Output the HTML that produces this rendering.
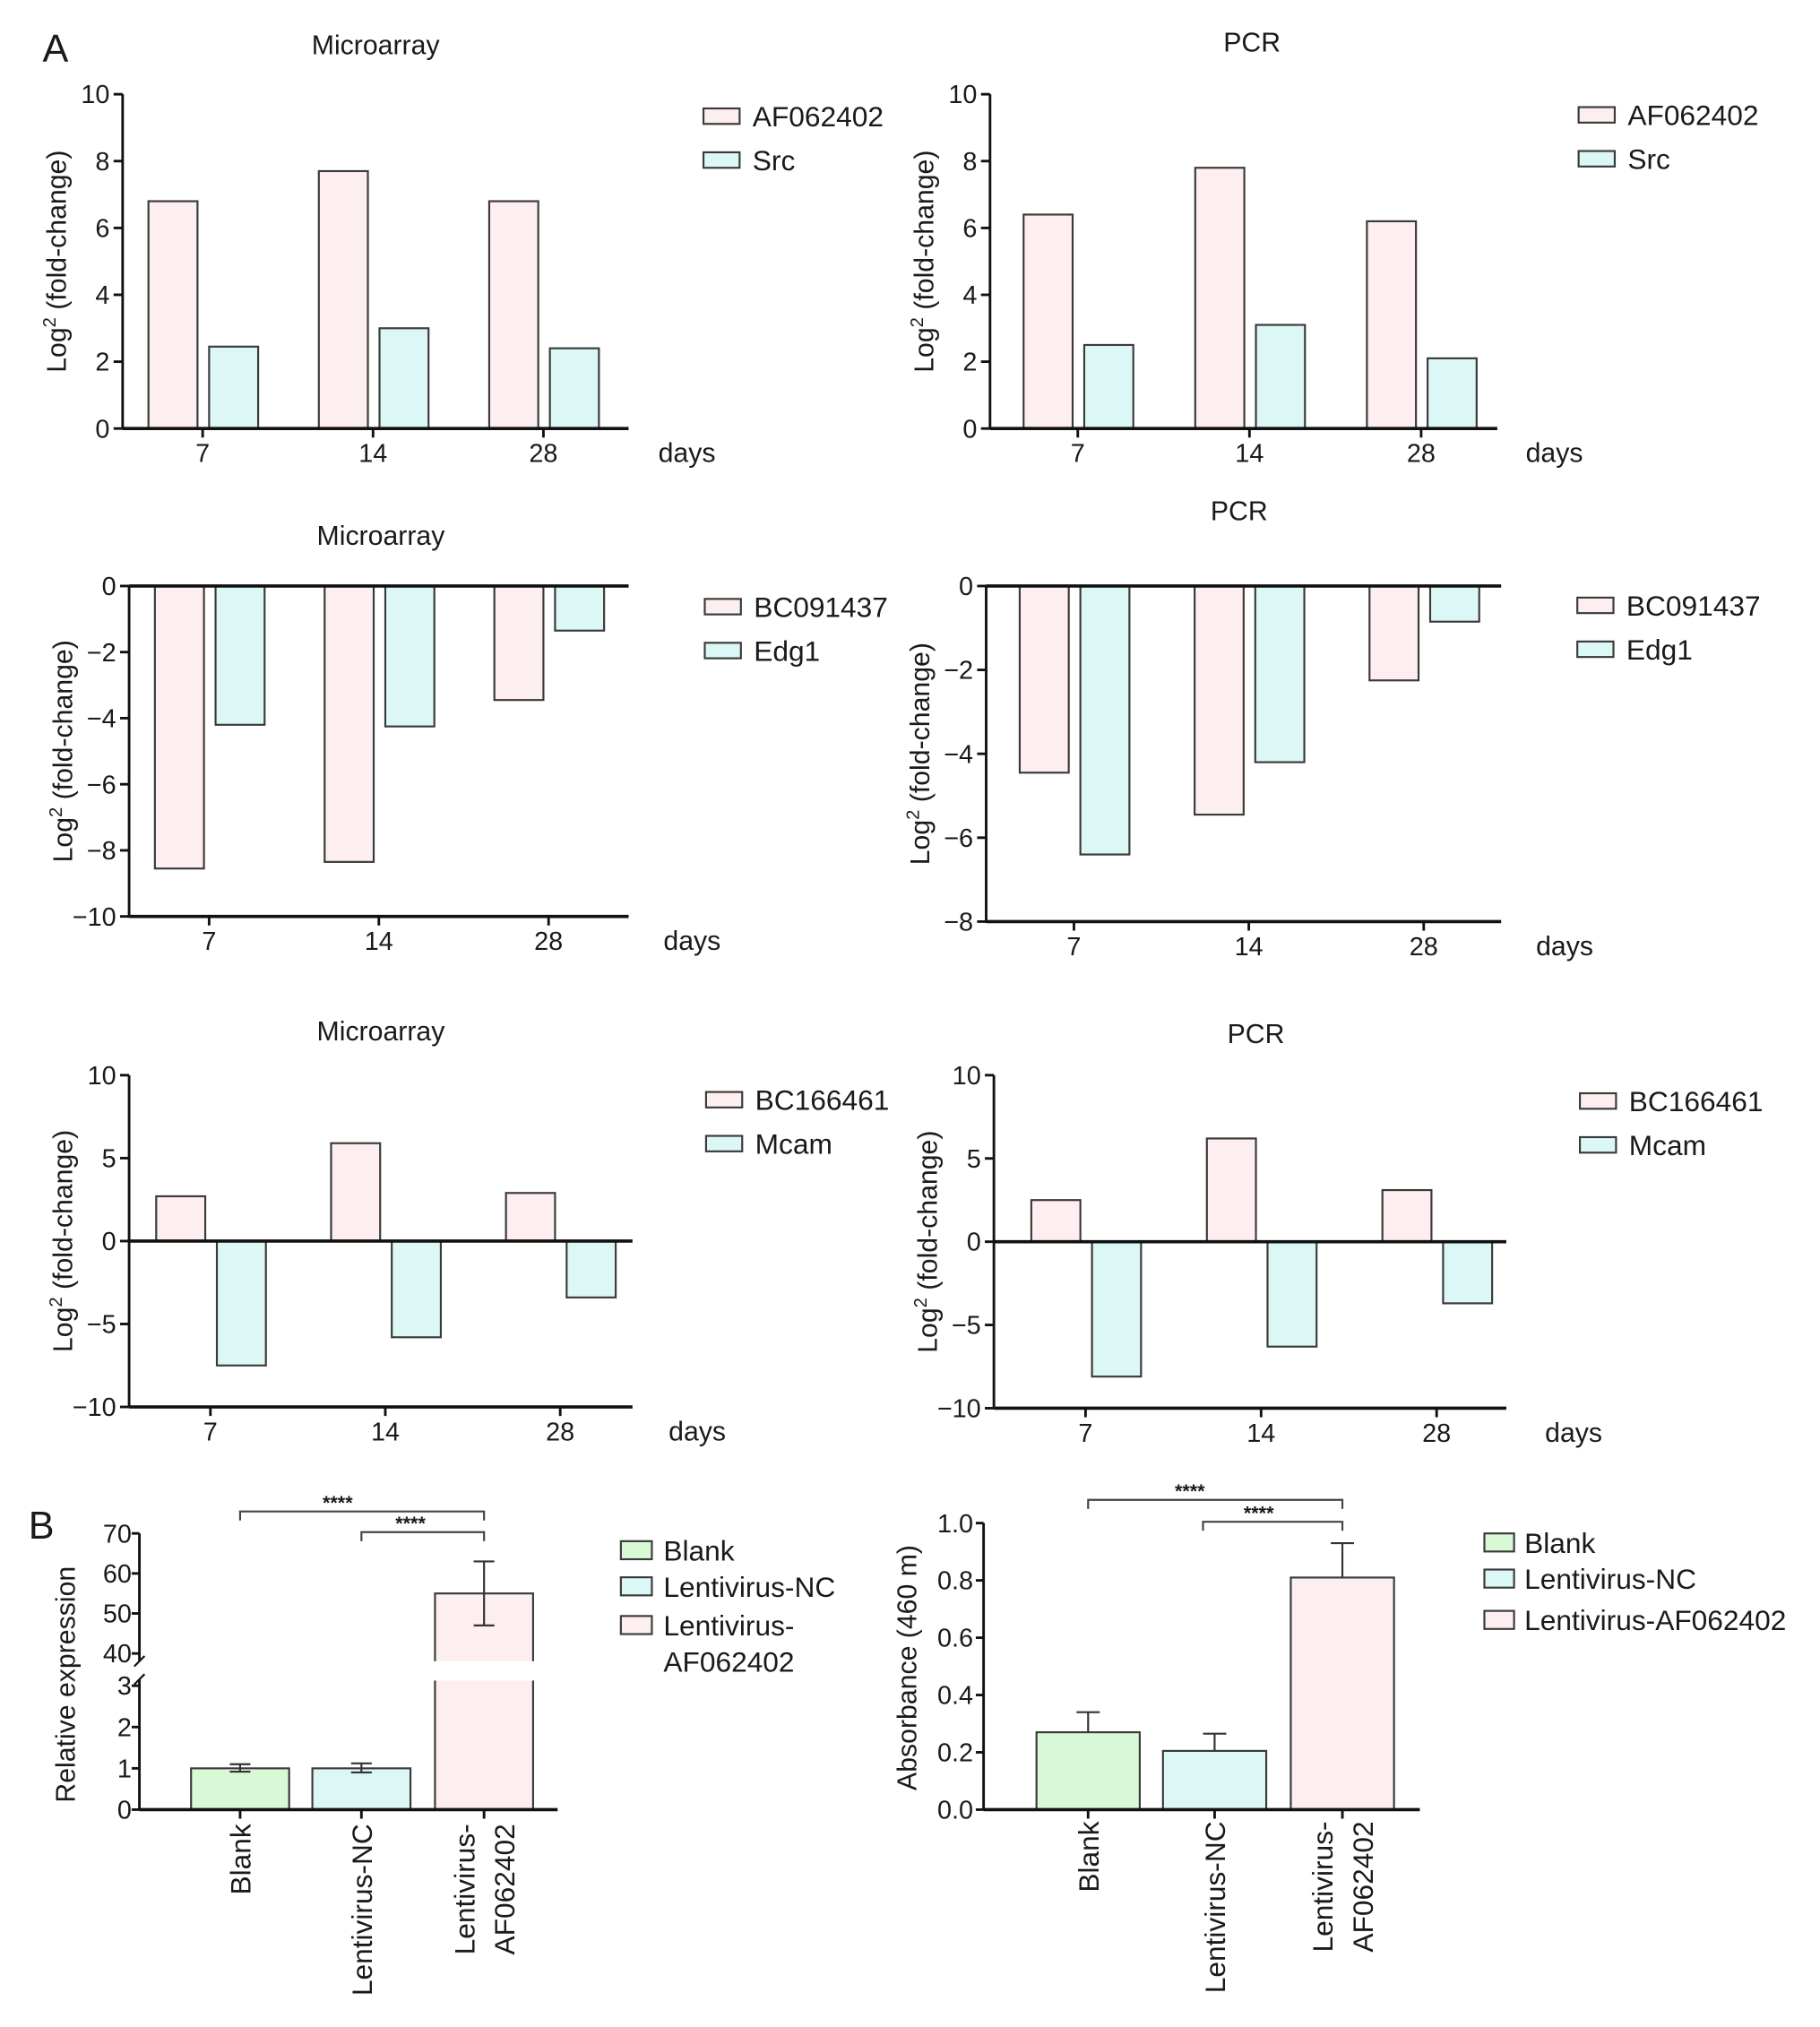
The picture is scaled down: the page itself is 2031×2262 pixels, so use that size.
<!DOCTYPE html>
<html><head><meta charset="utf-8">
<style>
html,body{margin:0;padding:0;background:#fff;}
svg{display:block;font-family:"Liberation Sans",Arial,sans-serif;}
text{fill:#1a1a1a;}
</style></head>
<body>
<svg id="fig" width="2031" height="2262" viewBox="0 0 1410 1570.4" xmlns="http://www.w3.org/2000/svg"></svg>
<script>
// ---- data ----
const days = ["7","14","28"];
const micro1Gene = [6.8, 7.7, 6.8];
const micro1Src = [2.45, 3.0, 2.4];
const pcr1Gene = [6.4, 7.8, 6.2];
const pcr1Src = [2.5, 3.1, 2.1];
const micro2Gene = [-8.55, -8.35, -3.45];
const micro2Edg = [-4.2, -4.25, -1.35];
const pcr2Gene = [-4.45, -5.45, -2.25];
const pcr2Edg = [-6.4, -4.2, -0.85];
const micro3Gene = [2.7, 5.9, 2.9];
const micro3Mcam = [-7.5, -5.8, -3.4];
const pcr3Gene = [2.5, 6.2, 3.1];
const pcr3Mcam = [-8.1, -6.3, -3.7];
const ticksPos10 = [0, 2, 4, 6, 8, 10];
const ticksNeg10 = [-10, -8, -6, -4, -2, 0];
const ticksNeg8 = [-8, -6, -4, -2, 0];
const ticksPm10 = [-10, -5, 0, 5, 10];
const groupsB = ["Blank", "Lentivirus-NC", "Lentivirus-AF062402"];
const relExpr = [1.0, 1.0, 55];
const relExprErrLo = [0.92, 0.9, 47];
const relExprErrHi = [1.1, 1.12, 63];
const absorb = [0.27, 0.205, 0.81];
const absorbErr = [0.34, 0.265, 0.93];
const relTicksLow = [0, 1, 2, 3];
const relTicksHigh = [40, 50, 60, 70];
const absTicks = [0.0, 0.2, 0.4, 0.6, 0.8, 1.0];

const PINK = "#fdeef0", CYAN = "#dcf8f6", GREEN = "#d9f8d6", STROKE = "#3a3a3a";
const TICK = 20, LEG = 22, CAT = 22, YT = 21;
const svg = document.getElementById('fig');
const NS = "http://www.w3.org/2000/svg";
function mk(tag, attrs, parent) {
  const e = document.createElementNS(NS, tag);
  for (const k in attrs) e.setAttribute(k, attrs[k]);
  (parent || svg).appendChild(e);
  return e;
}
function txt(s, x, y, size, anchor, parent, extra) {
  const t = mk('text', Object.assign({x: x, y: y, 'font-size': size, 'text-anchor': anchor || 'middle'}, extra || {}), parent);
  t.textContent = s;
  return t;
}
function logLabel(g, x, y) {
  const t = mk('text', {transform: `translate(${x},${y}) rotate(-90)`, 'font-size': YT, 'text-anchor': 'middle'}, g);
  const a = mk('tspan', {}, t); a.textContent = "Log";
  const b = mk('tspan', {dy: -8, 'font-size': 14}, t); b.textContent = "2";
  const c = mk('tspan', {dy: 8}, t); c.textContent = " (fold-change)";
  
  
}

function grouped(cfg, seriesA, seriesB, ticks, names) {
  const g = mk('g', {});
  
  
  const y = v => cfg.y0 + (v - cfg.ymin) / (cfg.ymax - cfg.ymin) * (cfg.y1 - cfg.y0);
  const zero = y(0);
  const tt = txt(cfg.title, cfg.titleX, cfg.titleY, 21, 'middle', g);
  
  
  days.forEach((d, i) => {
    const cx = cfg.x0 + cfg.tick0 + i * cfg.step;
    [[seriesA, PINK, -1], [seriesB, CYAN, 1]].forEach(([s, col, side]) => {
      const v = s[i];
      const bx = side < 0 ? cx - 42 : cx + 5;
      const top = Math.min(y(v), zero), h = Math.abs(y(v) - zero);
      const r = mk('rect', {x: bx, y: top, width: 38, height: h, fill: col, stroke: STROKE, 'stroke-width': 1.5}, g);
      
      
    });
    mk('line', {x1: cx, x2: cx, y1: cfg.axisY, y2: cfg.axisY + 7, stroke: '#111', 'stroke-width': 2}, g);
    const tl = txt(d, cx, cfg.axisY + 26, TICK, 'middle', g);
    
    
  });
  mk('line', {x1: cfg.x0, x2: cfg.x0, y1: y(cfg.ymax), y2: y(cfg.ymin), stroke: '#111', 'stroke-width': 2}, g);
  ticks.forEach(v => {
    mk('line', {x1: cfg.x0 - 7, x2: cfg.x0, y1: y(v), y2: y(v), stroke: '#111', 'stroke-width': 2}, g);
    const lbl = txt(v < 0 ? '\u2212' + Math.abs(v) : String(v), cfg.x0 - 10, y(v) + 7, TICK, 'end', g);
    
    
  });
  mk('line', {x1: cfg.x0, x2: cfg.xEnd, y1: zero, y2: zero, stroke: '#111', 'stroke-width': 2.5}, g);
  if (cfg.axisY !== zero) mk('line', {x1: cfg.x0, x2: cfg.xEnd, y1: cfg.axisY, y2: cfg.axisY, stroke: '#111', 'stroke-width': 2.5}, g);
  const dl = txt('days', cfg.daysX, cfg.axisY + 26, 21, 'start', g);
  
  
  logLabel(g, cfg.x0 - 44, (y(cfg.ymax) + y(cfg.ymin)) / 2);
  [[names[0], PINK], [names[1], CYAN]].forEach(([n, c], k) => {
    const ly = cfg.legY + k * 34;
    const lr = mk('rect', {x: cfg.legX, y: ly - 6, width: 28, height: 12, fill: c, stroke: STROKE, 'stroke-width': 1.5}, g);
    
    
    const lt = txt(n, cfg.legX + 38, ly + 8, LEG, 'start', g);
    
    
  });
  return g;
}

const pl = txt('A', 33, 48, 30, 'start');



grouped({name:'microarray-src-chart', title:'Microarray', titleX:291, titleY:42, x0:95, xEnd:487, y0:332, y1:73, ymin:0, ymax:10, axisY:332, tick0:62, step:132, daysX:510, legX:545, legY:90}, micro1Gene, micro1Src, ticksPos10, ['AF062402','Src']);
grouped({name:'pcr-src-chart', title:'PCR', titleX:970, titleY:40, x0:767, xEnd:1160, y0:332, y1:73, ymin:0, ymax:10, axisY:332, tick0:68, step:133, daysX:1182, legX:1223, legY:89}, pcr1Gene, pcr1Src, ticksPos10, ['AF062402','Src']);
grouped({name:'microarray-edg1-chart', title:'Microarray', titleX:295, titleY:422, x0:100, xEnd:487, y0:710, y1:454, ymin:-10, ymax:0, axisY:710, tick0:62, step:131.5, daysX:514, legX:546, legY:470}, micro2Gene, micro2Edg, ticksNeg10, ['BC091437','Edg1']);
grouped({name:'pcr-edg1-chart', title:'PCR', titleX:960, titleY:403, x0:764, xEnd:1163, y0:714, y1:454, ymin:-8, ymax:0, axisY:714, tick0:68, step:135.5, daysX:1190, legX:1222, legY:469}, pcr2Gene, pcr2Edg, ticksNeg8, ['BC091437','Edg1']);
grouped({name:'microarray-mcam-chart', title:'Microarray', titleX:295, titleY:806, x0:100, xEnd:490, y0:1090, y1:833, ymin:-10, ymax:10, axisY:1090, tick0:63, step:135.5, daysX:518, legX:547, legY:852}, micro3Gene, micro3Mcam, ticksPm10, ['BC166461','Mcam']);
grouped({name:'pcr-mcam-chart', title:'PCR', titleX:973, titleY:808, x0:770, xEnd:1167, y0:1091, y1:833, ymin:-10, ymax:10, axisY:1091, tick0:71, step:136, daysX:1197, legX:1224, legY:853}, pcr3Gene, pcr3Mcam, ticksPm10, ['BC166461','Mcam']);

const COLB = [GREEN, CYAN, PINK];
(function(){
  const g = mk('g', {});
  
  
  const pb = txt('B', 22, 1192, 30, 'start', g);
  
  
  const x0 = 108, xEnd = 432;
  const yLow = v => 1402 - v * 32;
  const yHigh = v => 1281 - (v - 40) * 3.1;
  const yv = v => v <= 3.2 ? yLow(v) : yHigh(v);
  const centers = [186, 280, 375];
  groupsB.forEach((n, i) => {
    const cx = centers[i], v = relExpr[i];
    const top = yv(v);
    const r = mk('rect', {x: cx - 38, y: top, width: 76, height: 1402 - top, fill: COLB[i], stroke: STROKE, 'stroke-width': 1.5}, g);
    
    
    const lo = yv(relExprErrLo[i]), hi = yv(relExprErrHi[i]);
    mk('line', {x1: cx, x2: cx, y1: lo, y2: hi, stroke: '#333', 'stroke-width': 1.5}, g);
    mk('line', {x1: cx - 8, x2: cx + 8, y1: lo, y2: lo, stroke: '#333', 'stroke-width': 1.5}, g);
    mk('line', {x1: cx - 8, x2: cx + 8, y1: hi, y2: hi, stroke: '#333', 'stroke-width': 1.5}, g);
    mk('line', {x1: cx, x2: cx, y1: 1402, y2: 1409, stroke: '#111', 'stroke-width': 2}, g);
  });
  mk('rect', {x: x0 + 2, y: 1287, width: xEnd - x0, height: 15, fill: '#fff'}, g);
  mk('line', {x1: x0, x2: x0, y1: yHigh(70), y2: 1287, stroke: '#111', 'stroke-width': 2}, g);
  mk('line', {x1: x0, x2: x0, y1: 1301, y2: 1402, stroke: '#111', 'stroke-width': 2}, g);
  mk('line', {x1: x0 - 4, x2: x0 + 4, y1: 1291, y2: 1283, stroke: '#111', 'stroke-width': 1.5}, g);
  mk('line', {x1: x0 - 4, x2: x0 + 4, y1: 1305, y2: 1297, stroke: '#111', 'stroke-width': 1.5}, g);
  mk('line', {x1: x0, x2: xEnd, y1: 1402, y2: 1402, stroke: '#111', 'stroke-width': 2.5}, g);
  relTicksLow.concat(relTicksHigh).forEach(v => {
    const yy = yv(v);
    mk('line', {x1: x0 - 6, x2: x0, y1: yy, y2: yy, stroke: '#111', 'stroke-width': 2}, g);
    const l = txt(String(v), x0 - 6, yy + 7, TICK, 'end', g);
    
    
  });
  const yl = txt('Relative expression', 0, 0, YT, 'middle', g, {transform: 'translate(58,1305) rotate(-90)'});
  
  
  [['Blank'], ['Lentivirus-NC'], ['Lentivirus-', 'AF062402']].forEach((lines, i) => {
    lines.forEach((s, k) => {
      const xx = centers[i] + 8 + (lines.length > 1 ? (k - 0.5) * 31 : 0);
      const l = txt(s, 0, 0, CAT, 'end', g, {transform: `translate(${xx},1413) rotate(-90)`});
      
      
    });
  });
  [[centers[0], centers[2], 1171, 1165], [centers[1], centers[2], 1187, 1181]].forEach(([a, b, yy, ty]) => {
    const p = mk('path', {d: `M${a},${yy + 7} V${yy} H${b} V${yy + 7}`, fill: 'none', stroke: '#444', 'stroke-width': 1.5}, g);
    
    
    const s = txt('****', (a + b) / 2 - (b - a) * 0.1, ty + 4, 15, 'middle', g, {'font-weight': 'bold'});
    
    
  });
  [['Blank'], ['Lentivirus-NC'], ['Lentivirus-', 'AF062402']].forEach((lines, i) => {
    const ly = [1201, 1229, 1259][i];
    const r = mk('rect', {x: 481, y: ly - 7, width: 24, height: 14, fill: COLB[i], stroke: STROKE, 'stroke-width': 1.5}, g);
    
    
    lines.forEach((s, k) => {
      const t = txt(s, 514, ly + 8 + k * 28, LEG, 'start', g);
      
      
    });
  });
})();

(function(){
  const g = mk('g', {});
  
  
  const x0 = 762, xEnd = 1100;
  const y = v => 1402 - v * 222;
  const centers = [843, 941, 1040];
  groupsB.forEach((n, i) => {
    const cx = centers[i], top = y(absorb[i]);
    const e = y(absorbErr[i]);
    mk('line', {x1: cx, x2: cx, y1: top, y2: e, stroke: '#333', 'stroke-width': 1.5}, g);
    mk('line', {x1: cx - 9, x2: cx + 9, y1: e, y2: e, stroke: '#333', 'stroke-width': 1.5}, g);
    const r = mk('rect', {x: cx - 40, y: top, width: 80, height: 1402 - top, fill: COLB[i], stroke: STROKE, 'stroke-width': 1.5}, g);
    
    
    mk('line', {x1: cx, x2: cx, y1: 1402, y2: 1409, stroke: '#111', 'stroke-width': 2}, g);
  });
  mk('line', {x1: x0, x2: x0, y1: y(1), y2: 1402, stroke: '#111', 'stroke-width': 2}, g);
  mk('line', {x1: x0, x2: xEnd, y1: 1402, y2: 1402, stroke: '#111', 'stroke-width': 2.5}, g);
  absTicks.forEach(v => {
    mk('line', {x1: x0 - 6, x2: x0, y1: y(v), y2: y(v), stroke: '#111', 'stroke-width': 2}, g);
    const l = txt(v.toFixed(1), x0 - 8, y(v) + 7, TICK, 'end', g);
    
    
  });
  const yl = txt('Absorbance (460 m)', 0, 0, YT, 'middle', g, {transform: 'translate(710,1292) rotate(-90)'});
  
  
  [['Blank'], ['Lentivirus-NC'], ['Lentivirus-', 'AF062402']].forEach((lines, i) => {
    lines.forEach((s, k) => {
      const xx = centers[i] + 8 + (lines.length > 1 ? (k - 0.5) * 31 : 0);
      const l = txt(s, 0, 0, CAT, 'end', g, {transform: `translate(${xx},1411) rotate(-90)`});
      
      
    });
  });
  [[centers[0], centers[2], 1162, 1156], [centers[1] - 9, centers[2], 1179, 1173]].forEach(([a, b, yy, ty]) => {
    const p = mk('path', {d: `M${a},${yy + 7} V${yy} H${b} V${yy + 7}`, fill: 'none', stroke: '#444', 'stroke-width': 1.5}, g);
    
    
    const s = txt('****', (a + b) / 2 - (b - a) * 0.1, ty + 4, 15, 'middle', g, {'font-weight': 'bold'});
    
    
  });
  ['Blank', 'Lentivirus-NC', 'Lentivirus-AF062402'].forEach((s, i) => {
    const ly = [1195, 1223, 1255][i];
    const r = mk('rect', {x: 1150, y: ly - 7, width: 23, height: 14, fill: COLB[i], stroke: STROKE, 'stroke-width': 1.5}, g);
    
    
    const t = txt(s, 1181, ly + 8, LEG, 'start', g);
    
    
  });
})();
</script>
</body></html>
